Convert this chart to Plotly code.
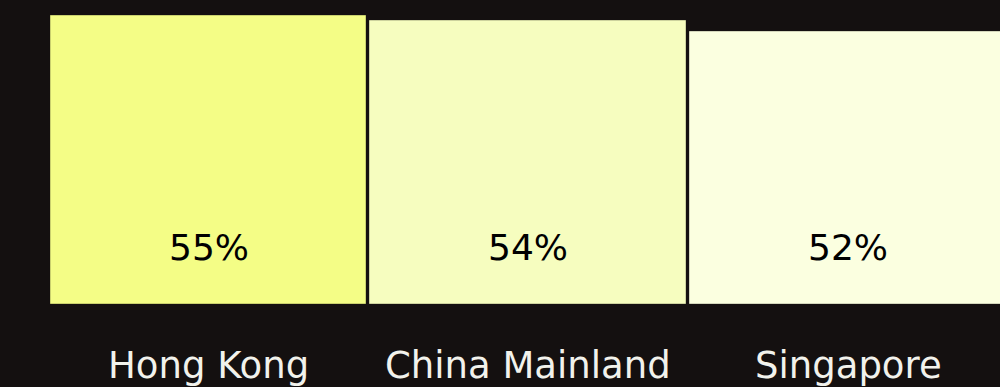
import plotly.graph_objects as go

categories = ["Hong Kong", "China Mainland", "Singapore"]
values = [55, 54, 52]
value_labels = ["55%", "54%", "52%"]
bar_colors = ["#f4fd86", "#f6fdbf", "#fbffe0"]
edge_colors = ["#c9d06e", "#cdd29e", "#d3d6bb"]

BG = "#141010"
x_pos = list(range(len(categories)))

fig = go.Figure()
fig.add_trace(go.Bar(
    x=x_pos, y=values, width=0.988,
    marker=dict(color=bar_colors, line=dict(color=edge_colors, width=1)),
    hoverinfo="skip",
))

for i, (lab, vl) in enumerate(zip(categories, value_labels)):
    fig.add_annotation(x=i, y=10.8, xref="x", yref="y", text=vl, showarrow=False,
                       font=dict(family="DejaVu Sans", size=36, color="#000000"),
                       xanchor="center", yanchor="middle")
    fig.add_annotation(x=i, y=-11.8, xref="x", yref="y", text=lab, showarrow=False,
                       font=dict(family="DejaVu Sans", size=37, color="#f2f2ec"),
                       xanchor="center", yanchor="middle")

fig.update_layout(
    width=1000, height=387,
    margin=dict(l=0, r=0, t=0, b=0),
    paper_bgcolor=BG, plot_bgcolor=BG,
    showlegend=False,
    bargap=0,
    xaxis=dict(range=[-0.652, 2.475], visible=False, fixedrange=True),
    yaxis=dict(range=[-15.85, 58.06], visible=False, fixedrange=True),
)

fig.write_html(
    "out.html",
    config={"displayModeBar": False},
    post_script="document.body.style.margin='0';document.body.style.background='%s';document.body.style.overflow='hidden';" % BG,
)
